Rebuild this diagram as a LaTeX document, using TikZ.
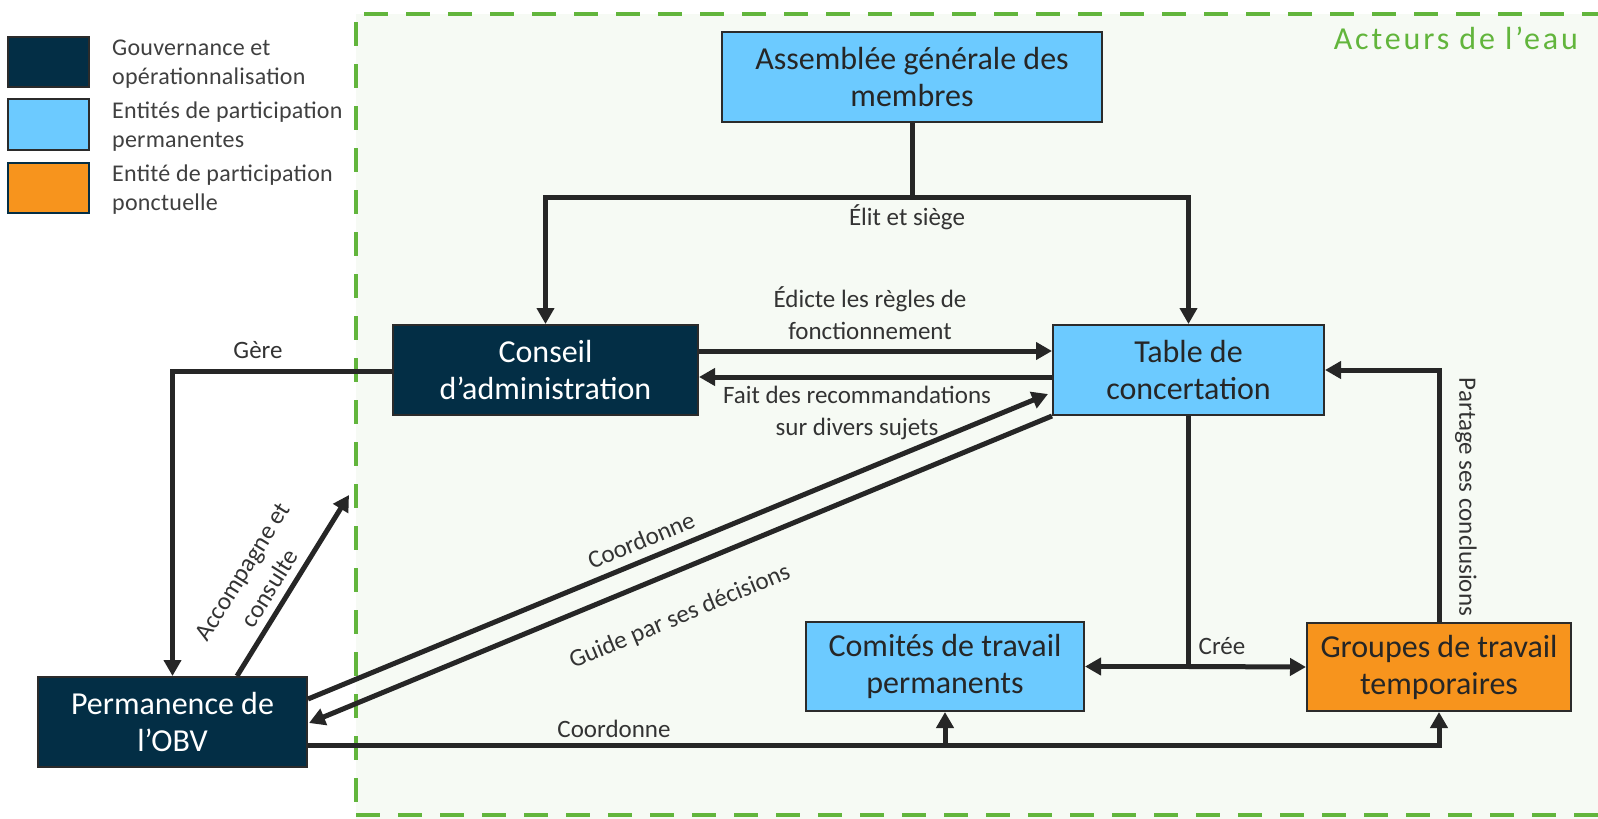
\documentclass[tikz,border=0pt]{standalone}
\usepackage{fontspec}
\setmainfont{Carlito}
\usetikzlibrary{arrows.meta,calc}
\definecolor{navy}{HTML}{032E45}
\definecolor{lblue}{HTML}{6CCAFF}
\definecolor{orng}{HTML}{F7941D}
\definecolor{bline}{HTML}{2B2B2B}
\definecolor{arrc}{HTML}{262626}
\definecolor{txt}{HTML}{333333}
\definecolor{boxtxt}{HTML}{262626}
\definecolor{legc}{HTML}{404040}
\definecolor{grn}{HTML}{62B53C}
\definecolor{bgg}{HTML}{F6FAF4}
\newcommand{\nodefont}{\fontsize{32}{37}\selectfont}
\newcommand{\lblfont}{\fontsize{25}{32}\selectfont}
\newcommand{\legfont}{\fontsize{24}{29}\selectfont\addfontfeatures{LetterSpace=1}}
\begin{document}
\begin{tikzpicture}[x=1pt,y=-1pt,
  box/.style={draw=bline,line width=2pt,inner sep=0pt,align=center,font=\nodefont},
  lbox/.style={box,fill=lblue,text=boxtxt},
  dbox/.style={box,fill=navy,text=white},
  obox/.style={box,fill=orng,text=boxtxt},
  arr/.style={draw=arrc,line width=5pt,-{Triangle[length=16pt,width=17pt]}},
  ln/.style={draw=arrc,line width=5pt},
  lbl/.style={font=\lblfont,text=txt,align=center,inner sep=0pt},
  legtxt/.style={font=\legfont,text=legc,align=left,inner sep=0pt,anchor=west},
  dsh/.style={draw=grn,line width=4pt,dash pattern=on 24pt off 18pt}]

\useasboundingbox (0,0) rectangle (1598,819);
\fill[white] (0,0) rectangle (1598,819);
\fill[bgg] (356,14) rectangle (1598,819);
\draw[dsh,dash phase=34pt] (356,14) -- (1605,14);
\draw[dsh,dash phase=34pt] (356,14) -- (356,815);
\draw[dsh] (356,815) -- (1605,815);

\node[font=\fontsize{32}{38}\selectfont\addfontfeatures{LetterSpace=9},text=grn,anchor=base east,inner sep=0pt] (title) at (1578,49) {Acteurs de l’eau};

% legend
\node[dbox,minimum width=81pt,minimum height=50pt] (lg1) at (48.5,62) {};
\node[lbox,minimum width=81pt,minimum height=51pt] (lg2) at (48.5,124.5) {};
\node[obox,draw=navy,minimum width=81pt,minimum height=50pt] (lg3) at (48.5,188) {};
\node[legtxt] (lt1) at (112,64) {Gouvernance et\\opérationnalisation};
\node[legtxt] (lt2) at (112,127) {Entités de participation\\permanentes};
\node[legtxt] (lt3) at (112,190) {Entité de participation\\ponctuelle};

% main nodes
\node[lbox,minimum width=380pt,minimum height=90pt] (asm) at (912,77) {Assemblée générale des\\membres};
\node[dbox,minimum width=305pt,minimum height=90pt] (ca) at (545.5,370) {Conseil\\d’administration};
\node[lbox,minimum width=271pt,minimum height=90pt] (tc) at (1188.5,370) {Table de\\concertation};
\node[lbox,minimum width=278pt,minimum height=89pt] (com) at (945,666.5) {Comités de travail\\permanents};
\node[obox,minimum width=264pt,minimum height=88pt] (grp) at (1439,667) {Groupes de travail\\temporaires};
\node[dbox,minimum width=269pt,minimum height=90pt] (perm) at (172.5,722) {Permanence de\\l’OBV};

% helper coordinates
\coordinate (j1) at (912,197);
\coordinate (ya) at (0,351);
\coordinate (yb) at (0,377);
\coordinate (yg) at (0,371);
\coordinate (yc) at (0,745);
\coordinate (acc) at (349,495);

% edges
\draw[ln] (asm.south) -- (j1);
\draw[arr] (j1) -| (ca.north);
\draw[arr] (j1) -| (tc.north);
\node[lbl] (l1) at (907,217) {Élit et siège};

\draw[arr] (ca.east |- ya) -- (tc.west |- ya);
\draw[arr] (tc.west |- yb) -- (ca.east |- yb);
\node[lbl] (l2) at (870,313) {Édicte les règles de\\fonctionnement};
\node[lbl] (l3) at (857,413) {Fait des recommandations\\sur divers sujets};

\draw[arr] (ca.west |- yg) -| (perm.north);
\node[lbl] (l4) at (258,350) {Gère};

\draw[arr] ($(perm.north)+(64.5,0)$) -- (acc);
\node[lbl,rotate=58] (l5) at (256,580) {Accompagne et\\consulte};

\draw[arr] ($(perm.east)+(0,-23)$) -- ($(tc.west)+(-4,24)$);
\node[lbl,rotate=22.4] (l6) at (641,540) {Coordonne};
\draw[arr] (tc.south west) -- ($(perm.east)+(1,1)$);
\node[lbl,rotate=22.5] (l7) at (680,617) {Guide par ses décisions};

\coordinate (j2) at (tc.south |- com.east);
\draw[ln] (tc.south) -- (j2);
\draw[arr] (j2) -- (com.east);
\draw[arr] (j2) -- (grp.west);
\node[lbl] (l8) at (1222,646) {Crée};

\draw[arr] (grp.north) |- (tc.east);
\node[lbl,rotate=-90] (l9) at (1466,497) {Partage ses conclusions};

\draw[arr] (perm.east |- yc) -| (grp.south);
\draw[arr] (com.south |- yc) -- (com.south);
\node[lbl] (l10) at (614,729) {Coordonne};
\end{tikzpicture}
\end{document}
